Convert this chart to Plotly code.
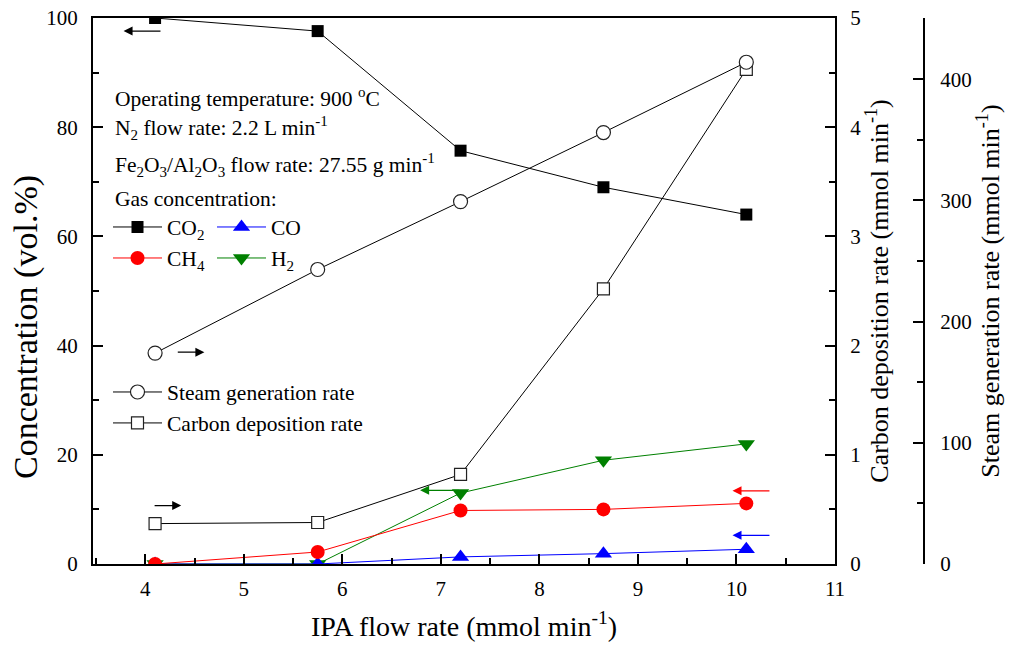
import plotly.graph_objects as go

# ---- data ----
ipa_flow = [4.1, 5.75, 7.2, 8.65, 10.1]
co2 = [100.0, 97.6, 75.7, 69.0, 64.0]
co = [0.0, 0.0, 1.3, 1.9, 2.7]
ch4 = [0.0, 2.2, 9.8, 10.0, 11.1]
h2 = [0.0, 0.0, 13.0, 19.0, 22.0]
steam_rate = [174, 243, 299, 356, 414]
carbon_rate = [0.37, 0.38, 0.82, 2.52, 4.53]

x_ticks = [4, 5, 6, 7, 8, 9, 10, 11]

FONT = "Liberation Serif"
L, R, T, B = 93, 93, 18, 85
W, H = 1017, 649
PW = W - L - R
XDOM = (835 - L) / PW

fig = go.Figure()

def px_y(py):
    return (564 - py) / 546.0

def px_x(px):
    return (px - L) / PW

# carbon first so steam circle on top at last point
fig.add_trace(go.Scatter(x=ipa_flow, y=carbon_rate, yaxis="y2", mode="lines+markers",
                         name="Carbon deposition rate", legend="legend3", legendrank=2,
                         line=dict(color="black", width=1),
                         marker=dict(symbol="square", size=12, color="white",
                                     line=dict(color="#222", width=1.2))))
fig.add_trace(go.Scatter(x=ipa_flow, y=steam_rate, yaxis="y3", mode="lines+markers",
                         name="Steam generation rate", legend="legend3", legendrank=1,
                         line=dict(color="black", width=1),
                         marker=dict(symbol="circle", size=14, color="white",
                                     line=dict(color="#222", width=1.2))))
fig.add_trace(go.Scatter(x=ipa_flow, y=co2, mode="lines+markers", name="CO<sub>2</sub>",
                         legend="legend", legendrank=1, line=dict(color="black", width=1),
                         marker=dict(symbol="square", size=12, color="black")))
fig.add_trace(go.Scatter(x=ipa_flow, y=h2, mode="lines+markers", name="H<sub>2</sub>",
                         legend="legend2", legendrank=2, line=dict(color="green", width=1),
                         marker=dict(symbol="triangle-down", size=15, color="green")))
fig.add_trace(go.Scatter(x=ipa_flow, y=co, mode="lines+markers", name="CO",
                         legend="legend", legendrank=2, line=dict(color="blue", width=1),
                         marker=dict(symbol="triangle-up", size=15, color="blue")))
fig.add_trace(go.Scatter(x=ipa_flow, y=ch4, mode="lines+markers", name="CH<sub>4</sub>",
                         legend="legend2", legendrank=1, line=dict(color="red", width=1),
                         marker=dict(symbol="circle", size=14, color="red")))

tickfont = dict(family=FONT, size=21, color="black")
common = dict(showgrid=False, zeroline=False, showline=True, linecolor="black",
              linewidth=2, ticks="inside", ticklen=10, tickwidth=1.6, tickcolor="black",
              tickfont=tickfont)

fig.update_layout(
    width=W, height=H, margin=dict(l=L, r=R, t=T, b=B, autoexpand=False),
    paper_bgcolor="white", plot_bgcolor="white",
    font=dict(family=FONT, color="black", size=21),
    xaxis=dict(domain=[0, XDOM], range=[3.47, 11.0], tickvals=x_ticks, mirror=True,
               ticklabelstandoff=5,
               minor=dict(dtick=0.5, ticks="inside", ticklen=6, tickwidth=1.6, tickcolor="black"),
               title=dict(text="IPA flow rate (mmol min<sup>-1</sup>)",
                          font=dict(family=FONT, size=28), standoff=16),
               **common),
    yaxis=dict(range=[0, 100], dtick=20, ticklabelstandoff=9,
               minor=dict(dtick=10, ticks="inside", ticklen=6, tickwidth=1.6, tickcolor="black"),
               **common),
    yaxis2=dict(range=[0, 5], dtick=1, overlaying="y", side="right", anchor="x",
                ticklabelstandoff=9,
                minor=dict(dtick=0.5, ticks="inside", ticklen=6, tickwidth=1.6, tickcolor="black"),
                title=dict(text="Carbon deposition rate (mmol min<sup>-1</sup>)",
                           font=dict(family=FONT, size=26), standoff=8),
                **common),
    yaxis3=dict(range=[0, 450.5], dtick=100, overlaying="y", side="right", anchor="free",
                position=1.0, ticklabelstandoff=11,
                minor=dict(dtick=50, ticks="inside", ticklen=6, tickwidth=1.6, tickcolor="black"),
                title=dict(text="Steam generation rate (mmol min<sup>-1</sup>)",
                           font=dict(family=FONT, size=26), standoff=8),
                **common),
    legend=dict(x=px_x(108), y=px_y(227), xanchor="left", yanchor="middle",
                orientation="h", bgcolor="rgba(0,0,0,0)", itemwidth=49,
                entrywidth=40, entrywidthmode="pixels",
                font=dict(family=FONT, size=21.5), traceorder="normal"),
    legend2=dict(x=px_x(108), y=px_y(258), xanchor="left", yanchor="middle",
                 orientation="h", bgcolor="rgba(0,0,0,0)", itemwidth=49,
                 entrywidth=40, entrywidthmode="pixels",
                 font=dict(family=FONT, size=21.5), traceorder="normal"),
    legend3=dict(x=px_x(108), y=px_y(407.5), xanchor="left", yanchor="middle",
                 orientation="v", bgcolor="rgba(0,0,0,0)", itemwidth=49,
                 font=dict(family=FONT, size=21.5), traceorder="normal"),
)

# left axis title (placed slightly below centre, as in the reference)
fig.add_annotation(text="Concentration (vol.%)", xref="paper", yref="paper",
                   x=px_x(26), y=px_y(327), xanchor="center", yanchor="middle",
                   textangle=-90, showarrow=False,
                   font=dict(family=FONT, size=34, color="black"))

# info text
info = [
    ("Operating temperature: 900 <sup>o</sup>C", 97),
    ("N<sub>2</sub> flow rate: 2.2 L min<sup>-1</sup>", 128),
    ("Fe<sub>2</sub>O<sub>3</sub>/Al<sub>2</sub>O<sub>3</sub> flow rate: 27.55 g min<sup>-1</sup>", 165),
    ("Gas concentration:", 199),
]
for txt, py in info:
    fig.add_annotation(text=txt, xref="paper", yref="paper", x=px_x(113), y=px_y(py),
                       xanchor="left", yanchor="middle", showarrow=False,
                       font=dict(family=FONT, size=21.5, color="black"))

# axis-pointing arrows (head x,y ; tail ax,ay) in concentration axis coordinates
arrows = [
    (3.78, 97.6, 4.17, 97.6, "black"),
    (4.60, 38.8, 4.315, 38.8, "black"),
    (4.365, 10.7, 4.08, 10.7, "black"),
    (6.79, 13.5, 7.2, 13.5, "green"),
    (9.96, 13.4, 10.35, 13.4, "red"),
    (9.96, 5.25, 10.35, 5.25, "blue"),
]
for hx, hy, tx, ty, c in arrows:
    fig.add_annotation(x=hx, y=hy, ax=tx, ay=ty, xref="x", yref="y", axref="x", ayref="y",
                       text="", showarrow=True, arrowhead=2, arrowsize=1.5, arrowwidth=1.2,
                       arrowcolor=c, standoff=0, startstandoff=0)

fig.write_html("out.html")
